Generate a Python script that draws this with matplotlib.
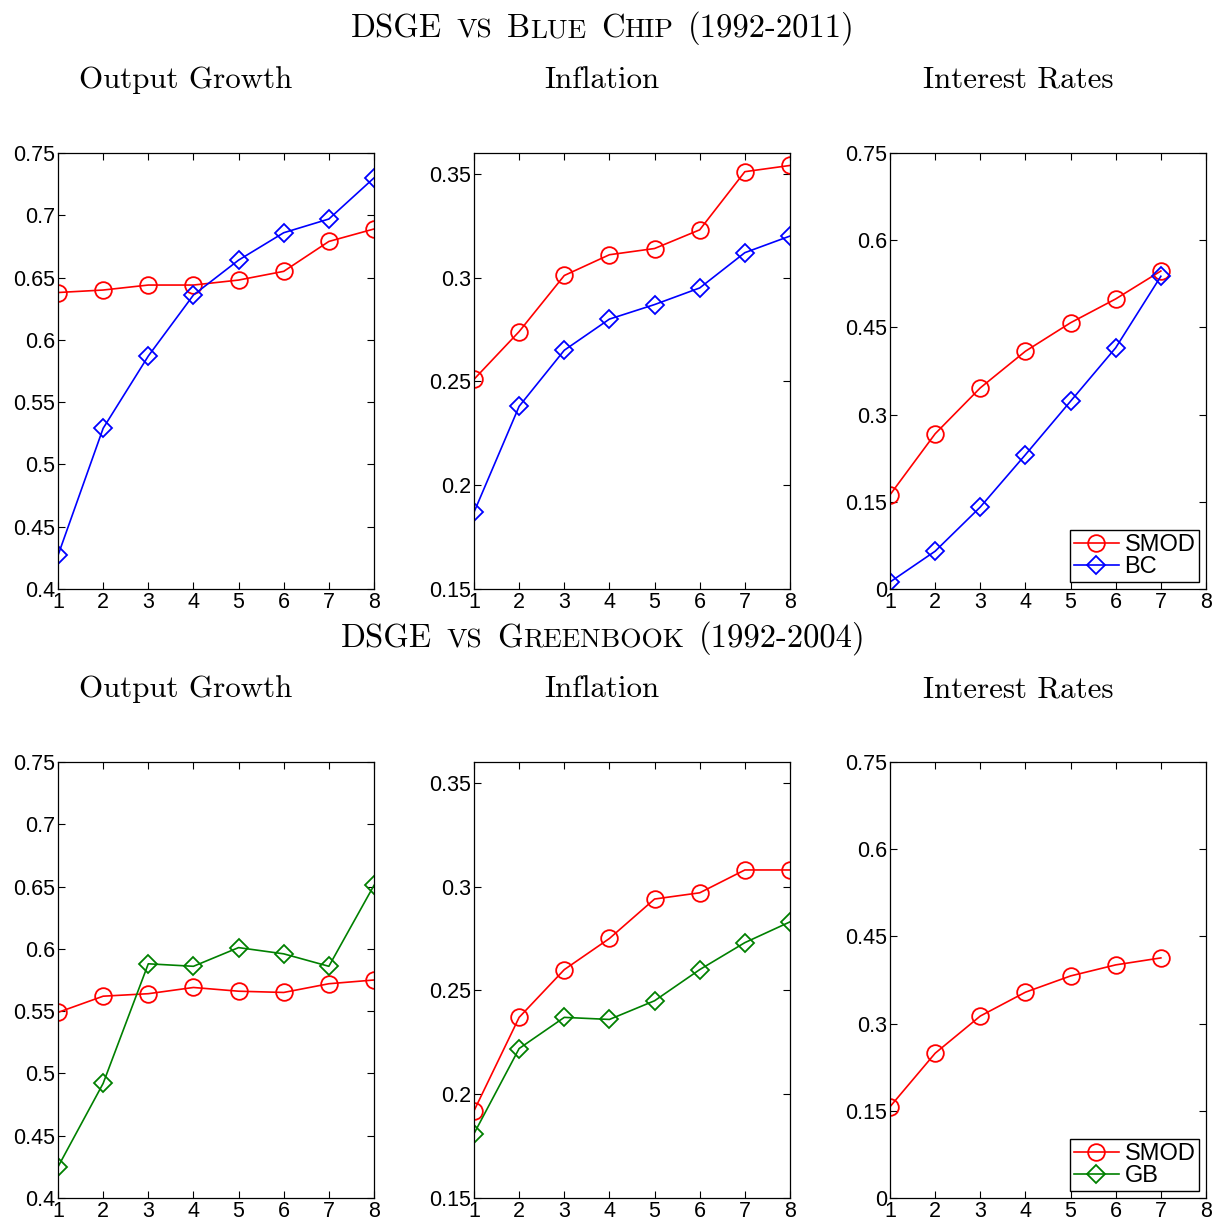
import numpy as np
import matplotlib
matplotlib.use("Agg")
import matplotlib.pyplot as plt
from matplotlib.ticker import FuncFormatter

# horizons
h8 = [1, 2, 3, 4, 5, 6, 7, 8]
h7 = [1, 2, 3, 4, 5, 6, 7]

# DSGE vs Blue Chip (1992-2011)
bc_smod_out = [0.638, 0.640, 0.644, 0.644, 0.648, 0.655, 0.679, 0.689]
bc_out = [0.427, 0.529, 0.587, 0.636, 0.664, 0.686, 0.697, 0.730]
bc_smod_inf = [0.251, 0.274, 0.301, 0.311, 0.314, 0.323, 0.351, 0.354]
bc_inf = [0.187, 0.238, 0.265, 0.280, 0.287, 0.295, 0.312, 0.320]
bc_smod_int = [0.162, 0.267, 0.346, 0.409, 0.458, 0.499, 0.547]
bc_int = [0.012, 0.065, 0.141, 0.231, 0.323, 0.415, 0.538]

# DSGE vs Greenbook (1992-2004)
gb_smod_out = [0.549, 0.562, 0.564, 0.569, 0.566, 0.565, 0.572, 0.575]
gb_out = [0.425, 0.492, 0.588, 0.586, 0.601, 0.596, 0.586, 0.651]
gb_smod_inf = [0.192, 0.237, 0.260, 0.275, 0.294, 0.297, 0.308, 0.308]
gb_inf = [0.181, 0.222, 0.237, 0.236, 0.245, 0.260, 0.273, 0.283]
gb_smod_int = [0.157, 0.249, 0.313, 0.354, 0.382, 0.401, 0.413]
gb_int = [np.nan] * 7   # no Greenbook rate forecasts shown

panel_titles = ["Output Growth", "Inflation", "Interest Rates"]
# words of each row title, chunks flagged True are drawn as small caps
row1_title = [[("DSGE", False)], [("VS", True)], [("B", False), ("LUE", True)],
              [("C", False), ("HIP", True)], [("(1992-2011)", False)]]
row2_title = [[("DSGE", False)], [("VS", True)], [("G", False), ("REENBOOK", True)],
              [("(1992-2004)", False)]]

out_ticks = [0.4, 0.45, 0.5, 0.55, 0.6, 0.65, 0.7, 0.75]
inf_ticks = [0.15, 0.2, 0.25, 0.3, 0.35]
int_ticks = [0, 0.15, 0.3, 0.45, 0.6, 0.75]

plt.rcParams['font.family'] = ['Liberation Sans', 'DejaVu Sans']

fig = plt.figure(figsize=(12.16, 12.20), dpi=100)

lefts = [58 / 1216, 474 / 1216, 890 / 1216]
bottoms = [1 - 589 / 1220, 1 - 1198 / 1220]
w, h = 316 / 1216, 436 / 1220

rows = [
    [(bc_smod_out, bc_out, h8, out_ticks, (0.4, 0.75)),
     (bc_smod_inf, bc_inf, h8, inf_ticks, (0.15, 0.36)),
     (bc_smod_int, bc_int, h7, int_ticks, (0, 0.75))],
    [(gb_smod_out, gb_out, h8, out_ticks, (0.4, 0.75)),
     (gb_smod_inf, gb_inf, h8, inf_ticks, (0.15, 0.36)),
     (gb_smod_int, gb_int, h7, int_ticks, (0, 0.75))],
]
other_label = ['BC', 'GB']
other_col = ['#0000ff', '#008000']

for r, row in enumerate(rows):
    for c, (smod, other, xs, yt, ylim) in enumerate(row):
        ax = fig.add_axes([lefts[c], bottoms[r], w, h])
        ax.plot(xs, smod, color='#ff0000', lw=1.2, marker='o', ms=12,
                mfc='none', mec='#ff0000', mew=1.3, label='SMOD')
        ax.plot(xs, other, color=other_col[r], lw=1.2, marker='D', ms=9,
                mfc='none', mec=other_col[r], mew=1.3, label=other_label[r])
        ax.set_xlim(1, 8)
        ax.set_ylim(*ylim)
        ax.set_xticks(h8)
        ax.set_yticks(yt)
        ax.yaxis.set_major_formatter(FuncFormatter(lambda v, p: f"{v:g}"))
        ax.tick_params(direction='in', top=True, right=True, length=5,
                       width=0.8, labelsize=15.5, pad=2)
        ax.tick_params(axis='y', pad=2)
        for s in ax.spines.values():
            s.set_linewidth(0.9)
        if c == 2:
            leg = ax.legend(loc='lower right', fontsize=17, frameon=True,
                            fancybox=False, edgecolor='black', framealpha=1,
                            handlelength=1.9, handletextpad=0.25,
                            labelspacing=0.02, borderpad=0.15,
                            borderaxespad=0.3)
            leg.get_frame().set_linewidth(1.0)

# panel titles, sitting a little left of the axes centres
title_base = [1 - 88 / 1220, 1 - 697 / 1220]
for r in range(2):
    for c in range(3):
        fig.text(lefts[c] + w / 2 - 30 / 1216, title_base[r], panel_titles[c],
                 family='cmr10', fontsize=22.3, ha='center', va='baseline')

# row titles with faked small caps
renderer = fig.canvas.get_renderer()


def small_caps_title(words, ybase, size, xcenter):
    pieces = []
    gap = 0.45 * size * fig.dpi / 72
    for i, word in enumerate(words):
        for j, (txt, small) in enumerate(word):
            t = fig.text(0, ybase, txt, family='cmr10', ha='left', va='baseline',
                         fontsize=size * 0.84 if small else size)
            extra = gap if (j == len(word) - 1 and i < len(words) - 1) else 0
            pieces.append((t, t.get_window_extent(renderer).width + extra))
    total = sum(p[1] for p in pieces)
    x = xcenter * fig.bbox.width - total / 2
    for t, wd in pieces:
        t.set_x(x / fig.bbox.width)
        x += wd


small_caps_title(row1_title, 1 - 37 / 1220, 23.5, 603 / 1216)
small_caps_title(row2_title, 1 - 647 / 1220, 23.5, 603 / 1216)

plt.savefig("out.png", dpi=100)
